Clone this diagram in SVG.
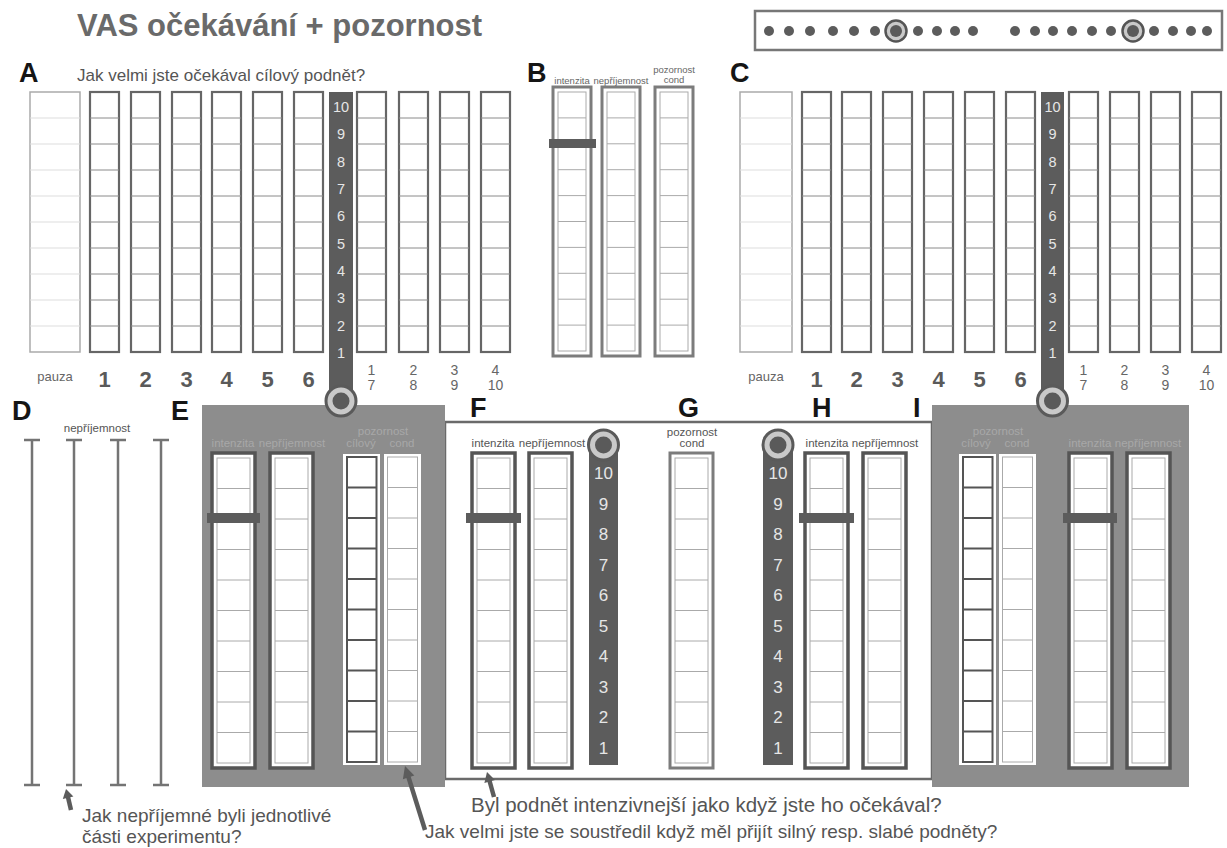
<svg xmlns="http://www.w3.org/2000/svg" xmlns:xlink="http://www.w3.org/1999/xlink" width="1227" height="848" viewBox="0 0 1227 848">
<style>
text{font-family:"Liberation Sans",Arial,sans-serif}
.title{font-size:31px;font-weight:bold;fill:#6a6a6a}
.lab{font-size:27px;font-weight:bold;fill:#151515}
.q{font-size:19px;fill:#555}
.q17{font-size:17px;fill:#555}
.col{fill:#fff;stroke:#666;stroke-width:2.2}
.row{stroke:#8a8a8a;stroke-width:1;fill:none}
.pz{fill:#fff;stroke:#aaa;stroke-width:1.5}
.pzrow{stroke:#ddd;stroke-width:1;fill:none}
.bar{fill:#5c5c5c}
.bn{font-size:14.5px;fill:#e6e6e6;text-anchor:middle}
.bn2{font-size:17px;fill:#e6e6e6;text-anchor:middle}
.cn{font-size:22px;font-weight:bold;fill:#5a5a5a;text-anchor:middle}
.cs{font-size:14px;fill:#666;text-anchor:middle}
.pzl{font-size:13px;fill:#666;text-anchor:middle}
.outer{fill:#fff;stroke:#555;stroke-width:3.5}
.outerL{fill:#fff;stroke:#7c7c7c;stroke-width:3}
.inner{fill:#fff;stroke:#aaa;stroke-width:1}
.irow{stroke:#aaa;stroke-width:1;fill:none}
.sl{font-size:11.5px;fill:#555;text-anchor:middle}
.slg{font-size:11.5px;fill:#a8a8a8;text-anchor:middle}
.slb{font-size:9.5px;fill:#666;text-anchor:middle}
.panel{fill:#8d8d8d}
.dot{fill:#5c5c5c}
.ibeam{stroke:#747474;stroke-width:2.5;fill:none}
.shaft{stroke:#5c5c5c;stroke-width:4.5;fill:none}
.head{fill:#5c5c5c}
.mk{fill:#5c5c5c}
</style>
<defs>
<g id="colA">
<rect class="col" x="0" y="0" width="29" height="260"/>
<path class="row" d="M0,26h29M0,52h29M0,78h29M0,104h29M0,130h29M0,156h29M0,182h29M0,208h29M0,234h29"/>
</g>
<g id="pzA">
<rect class="pz" x="0" y="0" width="50" height="260"/>
<path class="pzrow" d="M0,26h50M0,52h50M0,78h50M0,104h50M0,130h50M0,156h50M0,182h50M0,208h50M0,234h50"/>
</g>
<g id="dbl">
<rect class="outer" x="0" y="0" width="43" height="315"/>
<rect class="inner" x="5" y="5" width="33" height="305"/>
<path class="irow" d="M5,35.5h33M5,66h33M5,96.5h33M5,127h33M5,157.5h33M5,188h33M5,218.5h33M5,249h33M5,279.5h33"/>
</g>
<g id="dblL">
<rect class="outerL" x="0" y="0" width="43" height="315"/>
<rect class="inner" x="5" y="5" width="33" height="305"/>
<path class="irow" d="M5,35.5h33M5,66h33M5,96.5h33M5,127h33M5,157.5h33M5,188h33M5,218.5h33M5,249h33M5,279.5h33"/>
</g>
<g id="dblB">
<rect class="outerL" x="0" y="0" width="38" height="269"/>
<rect class="inner" x="5" y="5" width="28" height="259"/>
<path class="irow" d="M5,30.9h28M5,56.8h28M5,82.7h28M5,108.6h28M5,134.5h28M5,160.4h28M5,186.3h28M5,212.2h28M5,238.1h28"/>
</g>
<g id="cil">
<rect x="0" y="0" width="37" height="311" fill="#fff"/>
<rect x="4" y="3" width="29.5" height="305" fill="#fff" stroke="#555" stroke-width="2"/>
<path stroke="#555" stroke-width="1.8" fill="none" d="M4,33.5h29.5M4,64h29.5M4,94.5h29.5M4,125h29.5M4,155.5h29.5M4,186h29.5M4,216.5h29.5M4,247h29.5M4,277.5h29.5"/>
</g>
<g id="cnd">
<rect x="0" y="0" width="37" height="311" fill="#fff"/>
<rect x="3.5" y="3" width="30" height="305" fill="#fff" stroke="#aaa" stroke-width="1"/>
<path class="irow" d="M3.5,33.5h30M3.5,64h30M3.5,94.5h30M3.5,125h30M3.5,155.5h30M3.5,186h30M3.5,216.5h30M3.5,247h30M3.5,277.5h30"/>
</g>
<g id="ring">
<circle cx="0" cy="0" r="15" fill="#c9c9c9" stroke="#5a5a5a" stroke-width="3"/>
<circle cx="0" cy="0" r="8.5" fill="#5a5a5a"/>
</g>
<g id="bigdot">
<circle cx="0" cy="0" r="10.5" fill="#c9c9c9" stroke="#555" stroke-width="2.5"/>
<circle cx="0" cy="0" r="6" fill="#5a5a5a"/>
</g>
</defs>

<rect x="0" y="0" width="1227" height="848" fill="#fff"/>

<g id="title">
<text class="title" x="77" y="36">VAS očekávání + pozornost</text>
</g>

<g id="indicator">
<rect x="755" y="11" width="467" height="39" fill="#fff" stroke="#777" stroke-width="2.5"/>
<g class="dot">
<circle cx="769" cy="31" r="5"/><circle cx="789" cy="31" r="5"/><circle cx="810" cy="31" r="5"/><circle cx="833" cy="31" r="5"/><circle cx="854" cy="31" r="5"/><circle cx="875" cy="31" r="5"/>
<circle cx="918" cy="31" r="5"/><circle cx="937" cy="31" r="5"/><circle cx="955" cy="31" r="5"/><circle cx="973" cy="31" r="5"/>
<circle cx="1015" cy="31" r="5"/><circle cx="1035" cy="31" r="5"/><circle cx="1053" cy="31" r="5"/><circle cx="1072" cy="31" r="5"/><circle cx="1092" cy="31" r="5"/><circle cx="1111" cy="31" r="5"/>
<circle cx="1154" cy="31" r="5"/><circle cx="1173" cy="31" r="5"/><circle cx="1191" cy="31" r="5"/><circle cx="1207" cy="31" r="5"/>
</g>
<use href="#bigdot" x="896" y="31"/>
<use href="#bigdot" x="1133" y="31"/>
</g>

<!-- Panel A -->
<g id="panelA">
<text class="lab" x="19" y="82">A</text>
<text class="q17" x="77" y="81">Jak velmi jste očekával cílový podnět?</text>
<use href="#pzA" x="30" y="92"/>
<use href="#colA" x="90" y="92"/>
<use href="#colA" x="131" y="92"/>
<use href="#colA" x="172" y="92"/>
<use href="#colA" x="212" y="92"/>
<use href="#colA" x="253" y="92"/>
<use href="#colA" x="294" y="92"/>
<use href="#colA" x="357" y="92"/>
<use href="#colA" x="399" y="92"/>
<use href="#colA" x="440" y="92"/>
<use href="#colA" x="481" y="92"/>
<rect class="bar" x="329" y="92" width="24" height="309"/>
<g class="bn">
<text x="341" y="112">10</text><text x="341" y="139">9</text><text x="341" y="167">8</text><text x="341" y="194">7</text><text x="341" y="221">6</text><text x="341" y="249">5</text><text x="341" y="276">4</text><text x="341" y="303">3</text><text x="341" y="331">2</text><text x="341" y="358">1</text>
</g>
<text class="pzl" x="55" y="381">pauza</text>
<g class="cn">
<text x="104.5" y="387">1</text><text x="145.5" y="387">2</text><text x="186.5" y="387">3</text><text x="226.5" y="387">4</text><text x="267.5" y="387">5</text><text x="308.5" y="387">6</text>
</g>
<g class="cs">
<text x="371.5" y="375">1</text><text x="371.5" y="390">7</text>
<text x="413.5" y="375">2</text><text x="413.5" y="390">8</text>
<text x="454.5" y="375">3</text><text x="454.5" y="390">9</text>
<text x="495.5" y="375">4</text><text x="495.5" y="390">10</text>
</g>
</g>

<!-- Panel B -->
<g id="panelB">
<text class="lab" x="527" y="82">B</text>
<text class="slb" x="572" y="84">intenzita</text>
<text class="slb" x="621" y="84">nepříjemnost</text>
<text class="slb" x="674" y="73">pozornost</text>
<text class="slb" x="674" y="83">cond</text>
<use href="#dblB" x="553" y="87"/>
<use href="#dblB" x="602" y="87"/>
<use href="#dblB" x="655" y="87"/>
<rect class="mk" x="549" y="139" width="47" height="9"/>
</g>

<!-- Panel C -->
<g id="panelC">
<text class="lab" x="730" y="82">C</text>
<rect class="pz" x="740" y="92" width="52" height="260"/>
<path class="pzrow" d="M740,118h52M740,144h52M740,170h52M740,196h52M740,222h52M740,248h52M740,274h52M740,300h52M740,326h52"/>
<use href="#colA" x="802" y="92"/>
<use href="#colA" x="842" y="92"/>
<use href="#colA" x="883" y="92"/>
<use href="#colA" x="924" y="92"/>
<use href="#colA" x="965" y="92"/>
<use href="#colA" x="1006" y="92"/>
<use href="#colA" x="1069" y="92"/>
<use href="#colA" x="1110" y="92"/>
<use href="#colA" x="1151" y="92"/>
<use href="#colA" x="1192" y="92"/>
<rect class="bar" x="1041" y="92" width="23" height="309"/>
<g class="bn">
<text x="1052.5" y="112">10</text><text x="1052.5" y="139">9</text><text x="1052.5" y="167">8</text><text x="1052.5" y="194">7</text><text x="1052.5" y="221">6</text><text x="1052.5" y="249">5</text><text x="1052.5" y="276">4</text><text x="1052.5" y="303">3</text><text x="1052.5" y="331">2</text><text x="1052.5" y="358">1</text>
</g>
<text class="pzl" x="766" y="381">pauza</text>
<g class="cn">
<text x="816.5" y="387">1</text><text x="856.5" y="387">2</text><text x="897.5" y="387">3</text><text x="938.5" y="387">4</text><text x="979.5" y="387">5</text><text x="1020.5" y="387">6</text>
</g>
<g class="cs">
<text x="1083.5" y="375">1</text><text x="1083.5" y="390">7</text>
<text x="1124.5" y="375">2</text><text x="1124.5" y="390">8</text>
<text x="1165.5" y="375">3</text><text x="1165.5" y="390">9</text>
<text x="1206.5" y="375">4</text><text x="1206.5" y="390">10</text>
</g>
</g>

<!-- Panel D -->
<g id="panelD">
<text class="lab" x="12" y="420">D</text>
<text class="sl" x="97" y="432">nepříjemnost</text>
<path class="ibeam" d="M24,440h16M32,440V785M24,785h16"/>
<path class="ibeam" d="M66,440h16M74,440V785M66,785h16"/>
<path class="ibeam" d="M110,440h16M118,440V785M110,785h16"/>
<path class="ibeam" d="M153,440h16M161,440V785M153,785h16"/>
</g>

<!-- Center white frame F G H -->
<g id="frameFGH">
<rect x="445" y="422" width="487" height="357" fill="#fff" stroke="#6a6a6a" stroke-width="2.5"/>
</g>

<!-- Panel E -->
<g id="panelE">
<rect class="panel" x="202" y="405" width="243" height="382"/>
<text class="lab" x="171" y="420">E</text>
<text class="slg" x="233" y="447">intenzita</text>
<text class="slg" x="292" y="447">nepříjemnost</text>
<text class="slg" x="383" y="435">pozornost</text>
<text class="slg" x="361" y="447">cílový</text>
<text class="slg" x="402" y="447">cond</text>
<use href="#dbl" x="212" y="453"/>
<use href="#dbl" x="270" y="453"/>
<use href="#cil" x="343" y="454"/>
<use href="#cnd" x="384" y="454"/>
<rect class="mk" x="207" y="513" width="53" height="10"/>
</g>
<g id="knobA">
<rect class="bar" x="329" y="380" width="24" height="21"/>
<use href="#ring" x="341" y="401"/>
</g>

<!-- Panel F -->
<g id="panelF">
<text class="lab" x="470" y="417">F</text>
<text class="sl" x="493" y="447">intenzita</text>
<text class="sl" x="552" y="447">nepříjemnost</text>
<use href="#dbl" x="472" y="453"/>
<use href="#dbl" x="529" y="453"/>
<rect class="mk" x="466" y="513" width="55" height="10"/>
<rect class="bar" x="589" y="445" width="29" height="320"/>
<use href="#ring" x="603.5" y="445"/>
<g class="bn2">
<text x="603.5" y="479">10</text><text x="603.5" y="509.5">9</text><text x="603.5" y="540">8</text><text x="603.5" y="570.5">7</text><text x="603.5" y="601">6</text><text x="603.5" y="631.5">5</text><text x="603.5" y="662">4</text><text x="603.5" y="692.5">3</text><text x="603.5" y="723">2</text><text x="603.5" y="753.5">1</text>
</g>
</g>

<!-- Panel G -->
<g id="panelG">
<text class="lab" x="678" y="417">G</text>
<text class="sl" x="692" y="436">pozornost</text>
<text class="sl" x="692" y="447">cond</text>
<use href="#dblL" x="670" y="453"/>
</g>

<!-- Panel H -->
<g id="panelH">
<text class="lab" x="812" y="417">H</text>
<rect class="bar" x="763" y="445" width="30" height="320"/>
<use href="#ring" x="778" y="445"/>
<g class="bn2">
<text x="778" y="479">10</text><text x="778" y="509.5">9</text><text x="778" y="540">8</text><text x="778" y="570.5">7</text><text x="778" y="601">6</text><text x="778" y="631.5">5</text><text x="778" y="662">4</text><text x="778" y="692.5">3</text><text x="778" y="723">2</text><text x="778" y="753.5">1</text>
</g>
<text class="sl" x="827" y="447">intenzita</text>
<text class="sl" x="885" y="447">nepříjemnost</text>
<use href="#dbl" x="805" y="453"/>
<use href="#dbl" x="863" y="453"/>
<rect class="mk" x="799" y="513" width="55" height="10"/>
</g>

<!-- Panel I -->
<g id="panelI">
<rect class="panel" x="932" y="405" width="257" height="382"/>
<text class="lab" x="913" y="417">I</text>
<text class="slg" x="998" y="435">pozornost</text>
<text class="slg" x="976" y="447">cílový</text>
<text class="slg" x="1017" y="447">cond</text>
<text class="slg" x="1090" y="447">intenzita</text>
<text class="slg" x="1148" y="447">nepříjemnost</text>
<use href="#cil" x="959" y="454"/>
<use href="#cnd" x="999" y="454"/>
<use href="#dbl" x="1069" y="453"/>
<use href="#dbl" x="1127" y="453"/>
<rect class="mk" x="1063" y="513" width="54" height="10"/>
</g>
<g id="knobC">
<rect class="bar" x="1041" y="380" width="23" height="21"/>
<use href="#ring" x="1052.5" y="401"/>
</g>

<!-- Connectors (arrows) -->
<g id="connectors">
<path class="shaft" d="M71,810 L67.5,795"/>
<polygon class="head" points="66,789 73.4,796.5 62.8,799"/>
<path class="shaft" d="M425,830 L407.5,774"/>
<polygon class="head" points="405,766 414.3,775.6 402.9,779.2"/>
<path class="shaft" d="M494,797 L489,779"/>
<polygon class="head" points="487,772 495,780.1 484.4,783.1"/>
</g>

<!-- Questions -->
<g id="questions">
<text class="q" x="82" y="822">Jak nepříjemné byli jednotlivé</text>
<text class="q" x="82" y="843">části experimentu?</text>
<text class="q" x="471" y="812" style="font-size:20.5px">Byl podnět intenzivnejší jako když jste ho očekával?</text>
<text class="q" x="425" y="838">Jak velmi jste se soustředil když měl přijít silný resp. slabé podněty?</text>
</g>
</svg>
